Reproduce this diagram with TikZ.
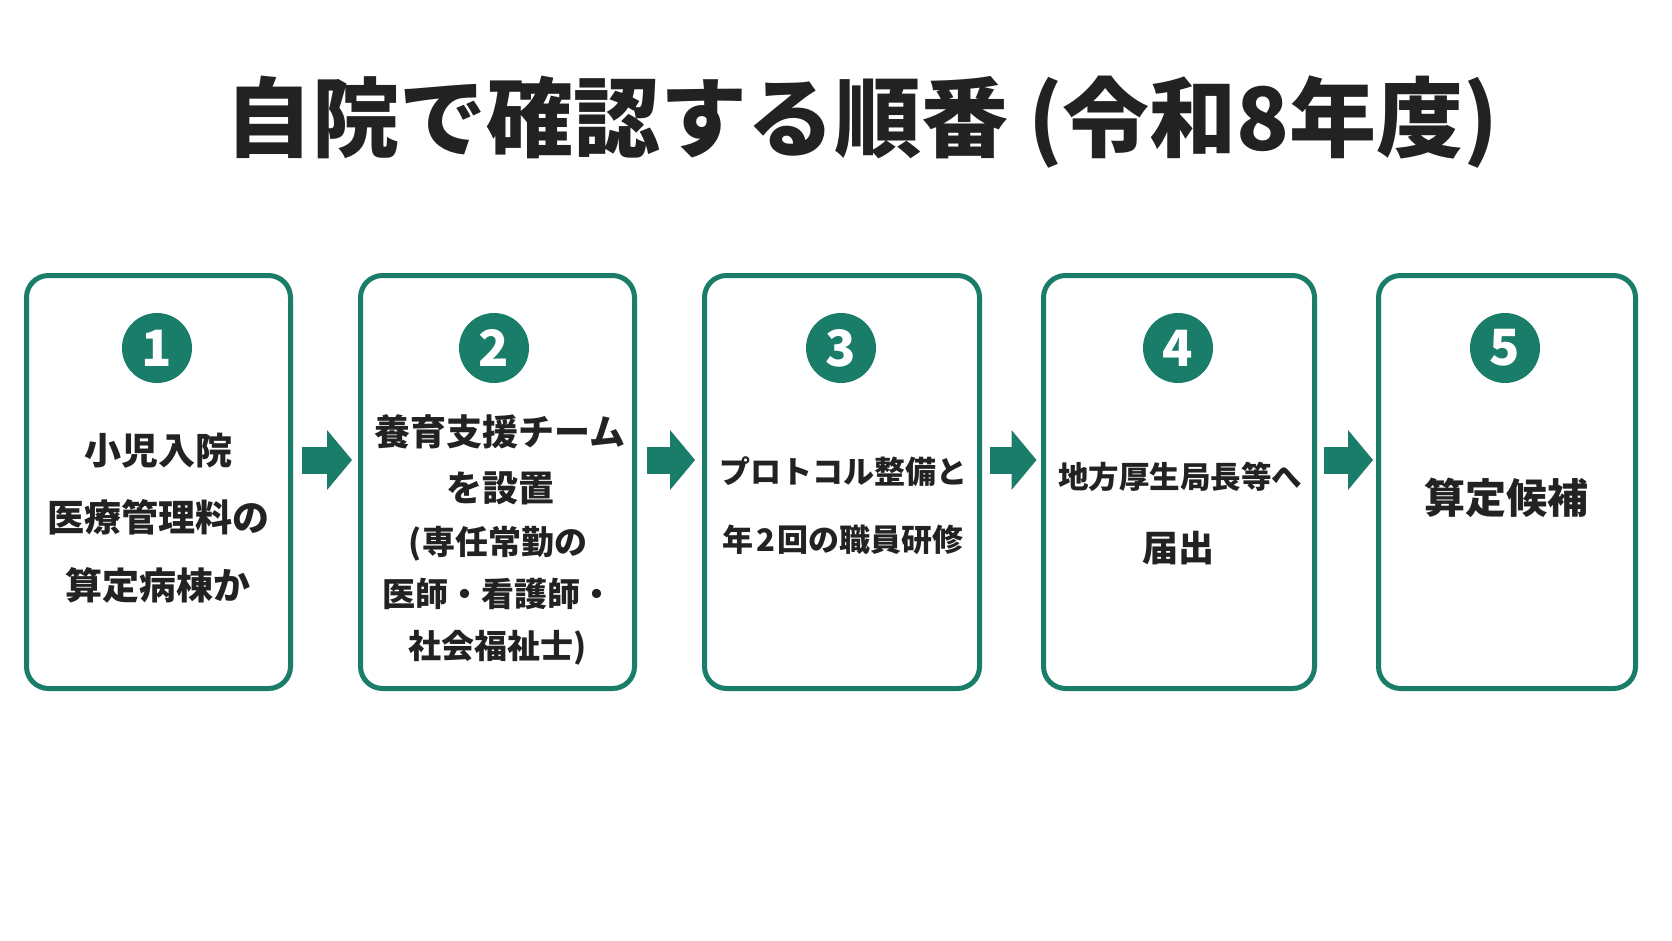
\documentclass[tikz,border=0pt]{standalone}
\usepackage{fontspec}
\setmainfont{Noto Sans CJK JP}[BoldFont={* Black}]
\usetikzlibrary{arrows.meta,calc}
\definecolor{tg}{HTML}{1A7D69}
\definecolor{ink}{HTML}{222222}
\tikzset{
  stepbox/.style={draw=tg, line width=5pt, rounded corners=22pt, fill=white,
    minimum height=413pt, inner sep=0pt},
  numdot/.style={circle, fill=tg, minimum size=70pt, inner sep=0pt, text=white,
    font=\bfseries\fontsize{50}{50}\selectfont},
  label/.style={text=ink, align=center, inner sep=0pt},
  conn/.style={tg, line width=27pt,
    -{Triangle[length=25pt,width=60pt,line width=0pt]}}
}
\begin{document}
\begin{tikzpicture}[x=1pt,y=-1pt]
\fill[white] (0,0) rectangle (1672,941);
\useasboundingbox (0,0) rectangle (1672,941);

\node[label, font=\bfseries\fontsize{87}{87}\selectfont] (title) at (862,122)
  {自院で確認する順番 (令和8年度)};

\node[stepbox, minimum width=264pt] (b1) at (158.5,482) {};
\node[stepbox, minimum width=274pt] (b2) at (497.5,482) {};
\node[stepbox, minimum width=275pt] (b3) at (842,482) {};
\node[stepbox, minimum width=271pt] (b4) at (1179,482) {};
\node[stepbox, minimum width=257pt] (b5) at (1507,482) {};

\node[numdot] (c1) at (157,348) {1};
\node[numdot] (c2) at (494,348) {2};
\node[numdot] (c3) at (841,348) {3};
\node[numdot] (c4) at (1178,348) {4};
\node[numdot] (c5) at (1505,348) {5};

\node[label, font=\bfseries\fontsize{37}{67.5}\selectfont] (t1) at (158,518)
  {小児入院\\医療管理料の\\算定病棟か};
\node[label, font=\bfseries\fontsize{36}{56}\selectfont] (t2a) at (500,460)
  {養育支援チーム\\を設置};
\node[label, font=\bfseries\fontsize{33}{52}\selectfont] (t2b) at (498,596)
  {(専任常勤の\\医師・看護師・\\社会福祉士)};
\node[label, font=\bfseries\fontsize{31}{68}\selectfont] (t3) at (843,506)
  {プロトコル整備と\\年\hspace{0.08em}2\hspace{0.08em}回の職員研修};
\node[label, font=\bfseries\fontsize{30.5}{30.5}\selectfont] (t4a) at (1180,477)
  {地方厚生局長等へ};
\node[label, font=\bfseries\fontsize{36}{36}\selectfont] (t4b) at (1178,548)
  {届出};
\node[label, font=\bfseries\fontsize{41}{41}\selectfont] (t5) at (1506,498)
  {算定候補};

\draw[conn, shorten <=9pt, shorten >=6pt] ([yshift=22pt]b1.east) -- ([yshift=22pt]b2.west);
\draw[conn, shorten <=10pt, shorten >=7pt] ([yshift=22pt]b2.east) -- ([yshift=22pt]b3.west);
\draw[conn, shorten <=7.5pt, shorten >=4.5pt] ([yshift=22pt]b3.east) -- ([yshift=22pt]b4.west);
\draw[conn, shorten <=7pt, shorten >=3pt] ([yshift=22pt]b4.east) -- ([yshift=22pt]b5.west);
\end{tikzpicture}
\end{document}
